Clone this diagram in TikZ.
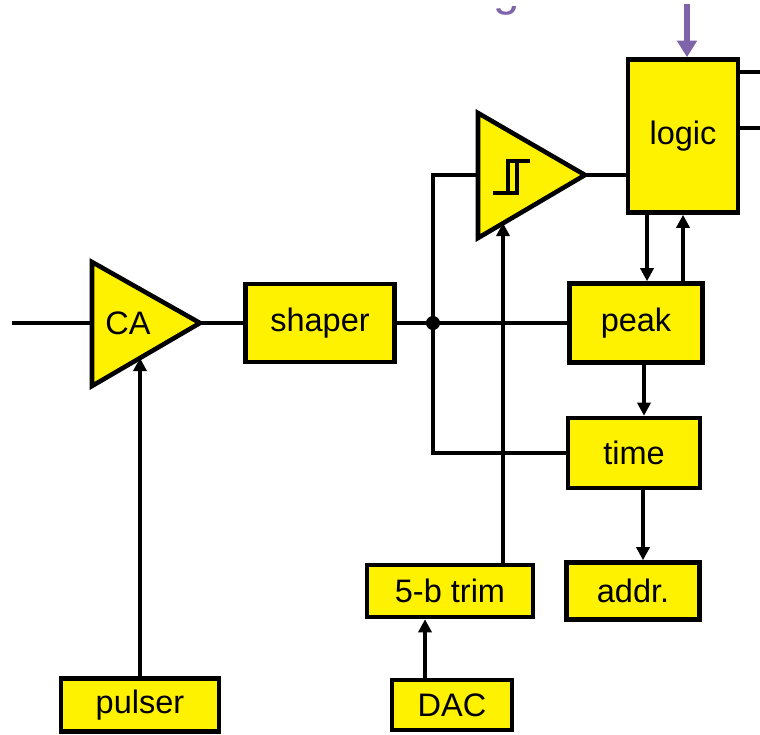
\documentclass[tikz,border=0pt]{standalone}
\usepackage{fontspec}
\setmainfont{Liberation Sans}
\usetikzlibrary{arrows.meta,positioning}
\definecolor{clkpurple}{RGB}{128,100,170}
\begin{document}
\begin{tikzpicture}[x=0.02cm,y=-0.02cm,>={Triangle[length=7.5pt,width=7.5pt]},
 line width=2.2pt,font=\fontsize{18.5}{22}\selectfont,
 blk/.style={draw,line width=2.6pt,fill=yellow,inner sep=0pt},
 tri/.style={draw,line width=2.6pt,fill=yellow,line join=miter}]
\useasboundingbox (0,0) rectangle (760,734);
\begin{scope}
\clip (0,6) rectangle (760,734);
\node[text=clkpurple,font=\fontsize{27}{32}\selectfont,anchor=base] (title) at (507,5) {g};
\end{scope}
\node[blk,minimum width=2.98cm,minimum height=1.56cm] (shaper) at (320,323) {shaper};
\node[blk,minimum width=2.2cm,minimum height=3.06cm] (logic) at (683,136) {logic};
\node[blk,minimum width=2.66cm,minimum height=1.58cm] (peak) at (636,323) {peak};
\node[blk,minimum width=2.64cm,minimum height=1.4cm] (time) at (634,453) {time};
\node[blk,minimum width=3.32cm,minimum height=1.04cm] (trim) at (450,591) {5-b trim\hspace{0.4cm}};
\node[blk,minimum width=2.66cm,minimum height=1.14cm] (addr) at (633,591) {addr.};
\node[blk,minimum width=2.4cm,minimum height=1cm] (dac) at (452,705) {DAC};
\node[blk,minimum width=3.16cm,minimum height=1.06cm] (pulser) at (140,705) {pulser};
\coordinate (ca-t) at (92,262);
\coordinate (ca-b) at (92,386);
\coordinate (ca-a) at (200,323);
\draw[tri] (ca-t) -- (ca-a) -- (ca-b) -- cycle;
\node (ca) at (128,323) {CA};
\coordinate (cmp-t) at (478,113);
\coordinate (cmp-b) at (478,238);
\coordinate (cmp-a) at (585,175);
\draw[tri] (cmp-t) -- (cmp-a) -- (cmp-b) -- cycle;
\coordinate (hys) at (511,177);
\draw[line width=2pt] ([shift={(-18,16)}]hys) -- ([shift={(6,16)}]hys) -- ([shift={(6,-16)}]hys);
\draw[line width=2pt] ([shift={(-3,16)}]hys) -- ([shift={(-3,-16)}]hys) -- ([shift={(19,-16)}]hys);
\coordinate (in) at (12,323);
\coordinate (j) at (433,323);
\coordinate (ca-s) at (140,358);
\coordinate (cmp-s) at (503,223);
\coordinate (out1) at (760,72);
\coordinate (out2) at (760,128);
\coordinate (clk) at (687,4);
\draw (in) -- (ca-t |- in);
\draw (ca-a) -- (shaper);
\draw (shaper) -- (peak);
\draw (cmp-t |- cmp-a) -| (j) |- (time);
\fill (j) circle[radius=4pt];
\draw (cmp-a) -- (logic.west |- cmp-a);
\draw[->] (cmp-s |- trim.north) -- (cmp-s);
\draw[->] (pulser.north) -- (ca-s);
\draw[->] ([xshift=-0.72cm]logic.south) -- ([xshift=-0.72cm]logic.south |- peak.north);
\draw[->] (logic.south |- peak.north) -- (logic.south);
\draw[->] ([xshift=0.16cm]peak.south) -- ([xshift=0.16cm]peak.south |- time.north);
\draw[->] ([xshift=0.18cm]time.south) -- ([xshift=0.18cm]time.south |- addr.north);
\draw[->] ([xshift=-0.54cm]dac.north) -- ([xshift=-0.54cm]dac.north |- trim.south);
\draw (logic.east |- out1) -- (out1);
\draw (logic.east |- out2) -- (out2);
\draw[clkpurple,line width=3.4pt,-{Triangle[length=9.5pt,width=11pt]}] (clk) -- (clk |- logic.north);
\end{tikzpicture}
\end{document}
